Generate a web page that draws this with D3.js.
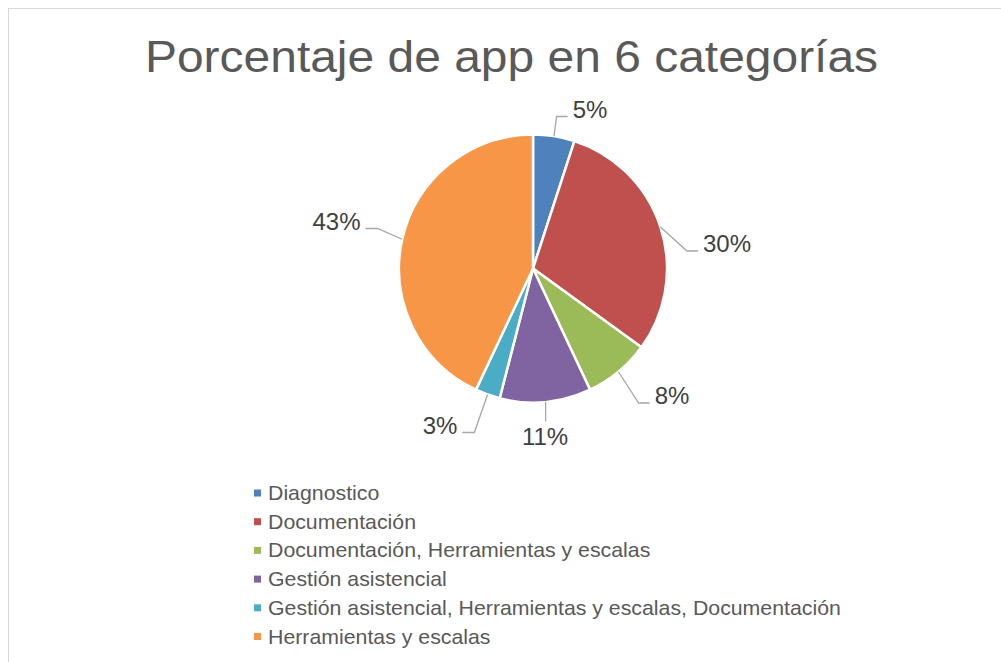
<!DOCTYPE html>
<html>
<head>
<meta charset="utf-8">
<script src="https://cdn.jsdelivr.net/npm/d3@7"></script>
<style>
  body { margin: 0; background: #fff; }
  svg { display: block; font-family: "Liberation Sans", Arial, sans-serif; }
</style>
</head>
<body>
<svg id="chart" width="1001" height="662"></svg>
<script>
// data
const categories = [
    "Diagnostico",
    "Documentación",
    "Documentación, Herramientas y escalas",
    "Gestión asistencial",
    "Gestión asistencial, Herramientas y escalas, Documentación",
    "Herramientas y escalas"
];
const percents = [5, 30, 8, 11, 3, 43];
const colors = ["#4F81BD", "#C0504D", "#9BBB59", "#8064A2", "#4BACC6", "#F79646"];

// label centres relative to the pie centre (Excel "best fit"), by slice index
const labelPos = [[57, -159.5], [194, -25], [139, 127], [12, 168], [-93, 156.5], [-196.5, -47.5]];

const svg = d3.select("#chart");

// chart border
svg.append("rect")
    .attr("x", 8.5).attr("y", 8.5)
    .attr("width", 1010).attr("height", 680)
    .attr("fill", "#fff")
    .attr("stroke", "#d9d9d9")
    .attr("stroke-width", 1);

// title (the original is slightly stretched horizontally)
svg.append("text")
    .attr("transform", "translate(511.5,72) scale(1.09,1)")
    .attr("text-anchor", "middle")
    .attr("fill", "#595959")
    .style("font-size", "44px")
    .text("Porcentaje de app en 6 categorías");

const cx = 533, cy = 268.5, radius = 134;

const pie = d3.pie().sort(null).value(d => d.value);
const arcs = pie(categories.map((c, i) => ({name: c, value: percents[i], color: colors[i]})));
const arc = d3.arc().innerRadius(0).outerRadius(radius);

const g = svg.append("g").attr("transform", `translate(${cx},${cy})`);

g.selectAll("path.slice")
    .data(arcs)
    .join("path")
    .attr("class", "slice")
    .attr("d", arc)
    .attr("fill", d => d.data.color)
    .attr("stroke", "#fff")
    .attr("stroke-width", 2.5)
    .attr("stroke-linejoin", "round");

// leader lines + labels
const midAngle = d => (d.startAngle + d.endAngle) / 2;
arcs.forEach((d, i) => {
    const a = midAngle(d);
    const sx = radius * Math.sin(a), sy = -radius * Math.cos(a);
    const [lx, ly] = labelPos[i];

    const label = g.append("text")
        .attr("x", lx).attr("y", ly)
        .attr("dy", "0.36em")
        .attr("text-anchor", "middle")
        .attr("fill", "#404040")
        .style("font-size", "24px")
        .text(d.data.value + "%");
    const halfW = label.node().getComputedTextLength() / 2;

    let pts;
    if (Math.abs(lx) < 30) {
        // label straight below the slice
        pts = [[sx, sy], [sx, ly - 15]];
    } else {
        const right = lx > 0;
        const endX = right ? lx - halfW - 5 : lx + halfW + 5;
        const elbowX = right ? endX - 11 : endX + 12;
        const yLine = ly + 7.5;
        pts = [[sx, sy], [elbowX, yLine], [endX, yLine]];
    }
    g.insert("path", "text")
        .attr("d", d3.line()(pts))
        .attr("fill", "none")
        .attr("stroke", "#a6a6a6")
        .attr("stroke-width", 1.3);
});

// legend
const legend = svg.append("g").attr("transform", "translate(254,493)");
const rowH = 28.7;
const rows = legend.selectAll("g")
    .data(categories)
    .join("g")
    .attr("transform", (d, i) => `translate(0,${i * rowH})`);
rows.append("rect")
    .attr("x", 0).attr("y", -3.5)
    .attr("width", 7).attr("height", 7)
    .attr("fill", (d, i) => colors[i]);
rows.append("text")
    .attr("transform", "translate(14,0) scale(1.065,1)")
    .attr("dy", "0.35em")
    .attr("fill", "#595959")
    .style("font-size", "20px")
    .text(d => d);
</script>
</body>
</html>
